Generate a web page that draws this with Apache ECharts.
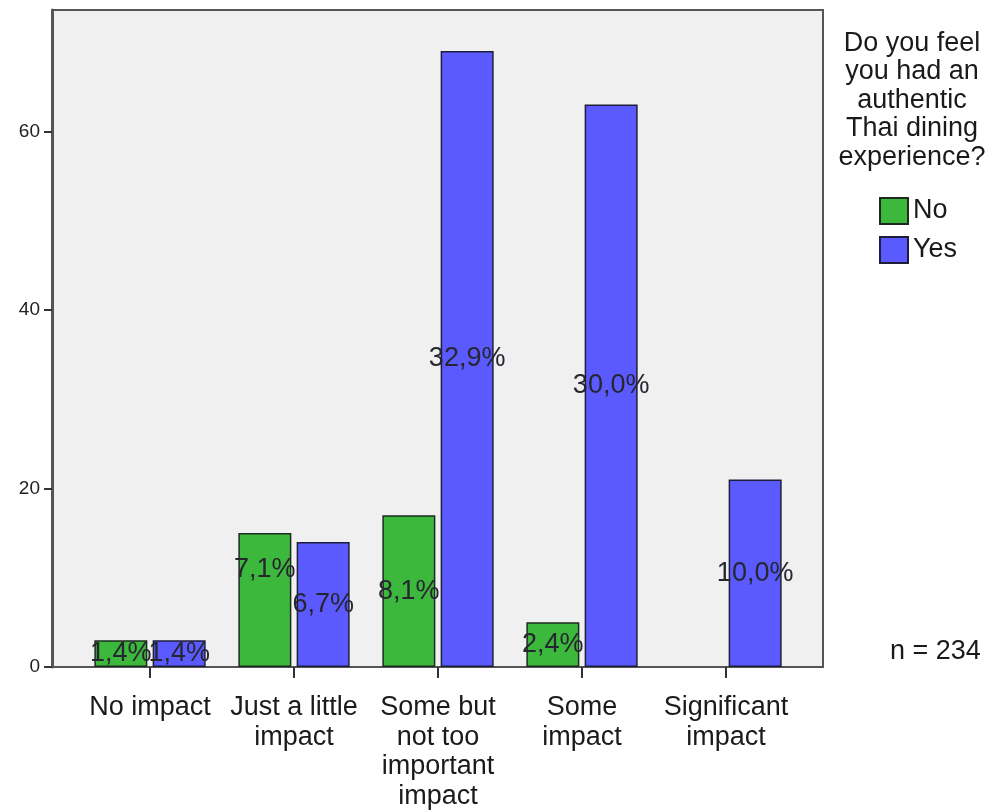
<!DOCTYPE html>
<html>
<head>
<meta charset="utf-8">
<script src="https://cdn.jsdelivr.net/npm/echarts@6/dist/echarts.min.js"></script>
<style>
  html, body { margin: 0; padding: 0; background: #ffffff; }
  #chart { width: 1005px; height: 812px; }
</style>
</head>
<body>
<div id="chart"></div>
<script>
// Impact categories along the x axis
const categories = ['No impact', 'Just a little\nimpact', 'Some but\nnot too\nimportant\nimpact', 'Some\nimpact', 'Significant\nimpact'];
// Counts per answer to "authentic Thai dining experience?"
const noCounts = [3, 15, 17, 5, 0];
const yesCounts = [3, 14, 69, 63, 21];
// Percent of total shown inside each bar
const noPercents = [1.4, 7.1, 8.1, 2.4, 0];
const yesPercents = [1.4, 6.7, 32.9, 30.0, 10.0];
const yTicks = [0, 20, 40, 60];
const legendTitle = 'Do you feel\nyou had an\nauthentic\nThai dining\nexperience?';
const sampleNote = 'n = 234';

const FONT = "'Liberation Sans', Arial, sans-serif";
const GREEN = '#3cb83c';
const BLUE = '#5a5aff';
const Y_MAX = 73.6;

const fmtPct = v => v.toFixed(1).replace('.', ',') + '%';

// label nudges so neighbouring labels don't sit on top of each other
const labelNudge = { 'No-1': [0, -31] };

function buildData(counts, pcts, key) {
  return counts.map((c, i) => {
    const item = { value: c, pct: pcts[i] };
    item.label = { show: c > 0 };
    if (c === 0) item.itemStyle = { borderWidth: 0, opacity: 0 };
    if (labelNudge[key + '-' + i]) item.label.offset = labelNudge[key + '-' + i];
    return item;
  });
}

const chart = echarts.init(document.getElementById('chart'), null, { renderer: 'canvas' });

const barLabel = {
  position: 'inside',
  fontFamily: FONT,
  fontSize: 27,
  color: '#262630',
  formatter: p => fmtPct(p.data.pct)
};

chart.setOption({
  animation: false,
  backgroundColor: '#ffffff',
  textStyle: { fontFamily: FONT },
  grid: [
    { // framed plot area with the count axis
      left: 52, top: 10, right: 182, bottom: 145,
      show: true, backgroundColor: '#f0f0f0',
      borderColor: '#555555', borderWidth: 2
    },
    { // inner band that holds the category bars
      left: 78, width: 720, top: 10, bottom: 145
    }
  ],
  xAxis: [
    { gridIndex: 0, type: 'value', show: false, min: 0, max: 1 },
    {
      gridIndex: 1, type: 'category', data: categories,
      axisLine: { show: false },
      axisTick: { show: true, alignWithLabel: true, length: 11, lineStyle: { color: '#333333', width: 2 } },
      axisLabel: { fontFamily: FONT, fontSize: 27, color: '#1a1a1a', lineHeight: 29.5, margin: 26, interval: 0 }
    }
  ],
  yAxis: [
    {
      gridIndex: 0, type: 'value', min: 0, max: Y_MAX, interval: 20,
      axisLine: { show: true, lineStyle: { color: '#555555', width: 3 } },
      axisTick: { show: true, length: 8, customValues: yTicks, lineStyle: { color: '#333333', width: 2 } },
      axisLabel: {
        fontFamily: FONT, fontSize: 19, color: '#222222', margin: 12,
        customValues: yTicks
      },
      splitLine: { show: false }
    },
    { gridIndex: 1, type: 'value', min: 0, max: Y_MAX, show: false, splitLine: { show: false } }
  ],
  legend: {
    orient: 'vertical',
    left: 874, top: 192,
    itemWidth: 28, itemHeight: 26, itemGap: 11,
    icon: 'rect',
    textStyle: { fontFamily: FONT, fontSize: 27, color: '#1a1a1a' },
    data: ['No', 'Yes']
  },
  series: [
    {
      name: 'No', type: 'bar', xAxisIndex: 1, yAxisIndex: 1,
      barWidth: 53, barGap: '10%',
      itemStyle: { color: GREEN, borderColor: '#1e2a1e', borderWidth: 1.5 },
      label: barLabel,
      data: buildData(noCounts, noPercents, 'No')
    },
    {
      name: 'Yes', type: 'bar', xAxisIndex: 1, yAxisIndex: 1,
      barWidth: 53, barGap: '10%',
      itemStyle: { color: BLUE, borderColor: '#1e1e3a', borderWidth: 1.5 },
      label: barLabel,
      data: buildData(yesCounts, yesPercents, 'Yes')
    }
  ],
  graphic: [
    {
      type: 'text', x: 912, y: 29,
      style: {
        text: legendTitle, fill: '#1a1a1a', font: '27px ' + FONT,
        textAlign: 'center', lineHeight: 28.5
      }
    },
    {
      type: 'text', x: 890, y: 638,
      style: { text: sampleNote, fill: '#1a1a1a', font: '27px ' + FONT }
    }
  ]
});
</script>
</body>
</html>
